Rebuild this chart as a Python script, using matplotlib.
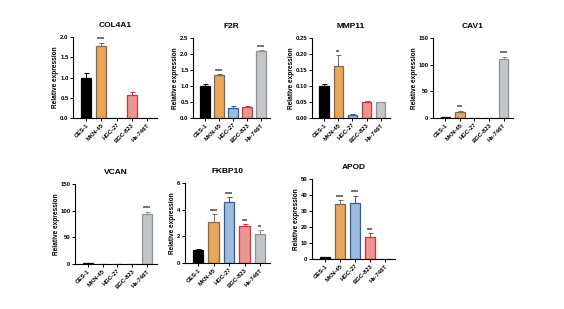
import matplotlib
matplotlib.use("Agg")
import matplotlib.pyplot as plt
import numpy as np

plt.rcParams['font.family'] = ['Liberation Sans', 'DejaVu Sans']
plt.rcParams['font.weight'] = 'bold'

cells = ["GES-1", "MKN-45", "HGC-27", "BGC-823", "Hs-746T"]

col4a1 = [1.0, 1.78, 0.0, 0.58, 0.0]
col4a1_err = [0.10, 0.08, 0.0, 0.05, 0.0]
col4a1_sig = ["", "****", "", "", ""]

f2r = [1.0, 1.33, 0.32, 0.35, 2.08]
f2r_err = [0.07, 0.05, 0.05, 0.02, 0.03]
f2r_sig = ["", "****", "", "", "****"]

mmp11 = [0.100, 0.162, 0.009, 0.050, 0.049]
mmp11_err = [0.006, 0.035, 0.002, 0.003, 0.002]
mmp11_sig = ["", "**", "", "", ""]

cav1 = [1.0, 12.0, 0.1, 0.5, 110.0]
cav1_err = [0.3, 2.0, 0.0, 0.2, 5.0]
cav1_sig = ["", "***", "", "", "****"]

vcan = [1.0, 0.2, 0.1, 0.1, 93.0]
vcan_err = [0.1, 0.0, 0.0, 0.0, 5.0]
vcan_sig = ["", "", "", "", "****"]

fkbp10 = [1.0, 3.1, 4.6, 2.8, 2.2]
fkbp10_err = [0.05, 0.55, 0.35, 0.12, 0.25]
fkbp10_sig = ["", "****", "****", "***", "**"]

apod = [1.0, 34.3, 35.0, 13.8, 0.1]
apod_err = [0.2, 2.5, 4.5, 2.5, 0.0]
apod_sig = ["", "****", "****", "***", ""]

fills = ['#000000', '#E9A65A', '#9EBBDB', '#EA9693', '#C3C6C9']
edges = ['#000000', '#7D6A4E', '#2F5C9A', '#D0343A', '#8E9092']

W, H = 564, 309
fig = plt.figure(figsize=(W / 100, H / 100), dpi=100)

panels = [
    ("COL4A1", col4a1, col4a1_err, col4a1_sig, (0, 2.0), 0.5, "%.1f", (73, 37, 157, 118)),
    ("F2R", f2r, f2r_err, f2r_sig, (0, 2.5), 0.5, "%.1f", (193, 38, 270, 118)),
    ("MMP11", mmp11, mmp11_err, mmp11_sig, (0, 0.25), 0.05, "%.2f", (312, 38, 390, 118)),
    ("CAV1", cav1, cav1_err, cav1_sig, (0, 150), 50, "%d", (433, 38, 513, 118)),
    ("VCAN", vcan, vcan_err, vcan_sig, (0, 150), 50, "%d", (75, 184, 157, 264)),
    ("FKBP10", fkbp10, fkbp10_err, fkbp10_sig, (0, 6), 2, "%d", (185, 183, 270, 263)),
    ("APOD", apod, apod_err, apod_sig, (0, 50), 10, "%d", (312, 179, 395, 259)),
]

x = np.arange(len(cells))
for title, vals, errs, sigs, ylim, step, fmt, (l, t, r, b) in panels:
    ax = fig.add_axes([l / W, 1 - b / H, (r - l) / W, (b - t) / H])
    ax.bar(x, vals, width=0.66, color=fills, edgecolor=edges, linewidth=0.9, zorder=2)
    for i in range(len(cells)):
        if errs[i] > 0:
            ax.errorbar(x[i], vals[i], yerr=[[0], [errs[i]]], fmt='none',
                        ecolor=edges[i], elinewidth=0.7, capsize=1.8, capthick=0.7, zorder=1)
        if sigs[i]:
            ax.text(x[i], vals[i] + errs[i] + (ylim[1] - ylim[0]) * 0.005, sigs[i],
                    ha='center', va='bottom', fontsize=3.8, fontweight='bold')
    ax.set_xlim(-0.85, 4.65)
    ax.set_ylim(*ylim)
    ticks = np.arange(ylim[0], ylim[1] + step / 2, step)
    ax.set_yticks(ticks)
    ax.set_yticklabels([fmt % v for v in ticks], fontsize=4.3, fontweight='bold')
    ax.set_xticks(x)
    ax.set_xticklabels(cells, rotation=45, ha='right', rotation_mode='anchor',
                       fontsize=4.2, fontweight='bold')
    ax.spines['top'].set_visible(False)
    ax.spines['right'].set_visible(False)
    for s in ('left', 'bottom'):
        ax.spines[s].set_linewidth(0.8)
    ax.tick_params(axis='both', length=2.2, width=0.7, pad=1)
    ax.set_ylabel("Relative expression", fontsize=4.7, fontweight='bold', labelpad=0.5)
    ax.set_title(title, fontsize=6, fontweight='bold', pad=7)

fig.savefig("out.png", dpi=100)
